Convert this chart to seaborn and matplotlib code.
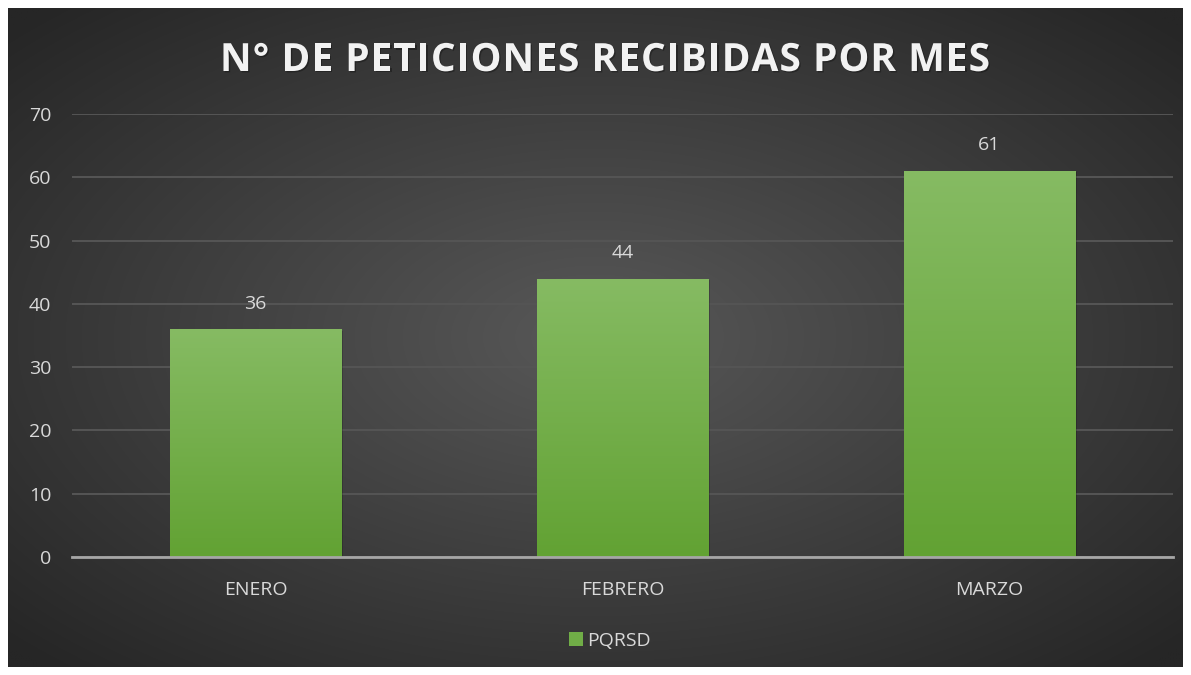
import numpy as np
import pandas as pd
import matplotlib
matplotlib.use("Agg")
import matplotlib.pyplot as plt
import matplotlib.patheffects as pe
from matplotlib.patches import Rectangle
import seaborn as sns

# ---- data ----
months = ["ENERO", "FEBRERO", "MARZO"]
pqrsd = [36, 44, 61]
series_name = "PQRSD"
title = "N° DE PETICIONES RECIBIDAS POR MES"
y_ticks = [0, 10, 20, 30, 40, 50, 60, 70]

df = pd.DataFrame({"mes": months, "valor": pqrsd})

FONT = ["Open Sans", "DejaVu Sans"]
plt.rcParams["font.family"] = FONT
TXT = "#d9d9d9"
FS = 14

W, H = 1191, 675
fig = plt.figure(figsize=(W / 100, H / 100), dpi=100)
fig.patch.set_facecolor("white")

# ---- radial gradient background ----
bx0, by0, bx1, by1 = 8, 8, 1183, 667
bg = fig.add_axes([bx0 / W, 1 - by1 / H, (bx1 - bx0) / W, (by1 - by0) / H], zorder=0)
gx = np.linspace(-1, 1, 600)
gy = np.linspace(-1, 1, 340)
X, Y = np.meshgrid(gx, gy)
R = np.sqrt((X * 0.95) ** 2 + (Y * 0.95) ** 2)
R = np.clip(R / 1.3, 0, 1)
c_in = np.array([0x58, 0x58, 0x58]) / 255
c_out = np.array([0x26, 0x26, 0x26]) / 255
img = c_in[None, None, :] * (1 - R[..., None]) + c_out[None, None, :] * R[..., None]
bg.imshow(img, aspect="auto", extent=[0, 1, 0, 1], interpolation="bilinear")
bg.set_axis_off()

# ---- main axes ----
ax = fig.add_axes([72 / W, 1 - 557 / H, (1173 - 72) / W, (557 - 114) / H], zorder=1)
ax.patch.set_alpha(0)

sns.barplot(data=df, x="mes", y="valor", color="#70ad47", width=0.466,
            ax=ax, zorder=3, saturation=1, edgecolor="none")

ax.set_xlim(-0.5, 2.5)
ax.set_ylim(0, 70)
ax.set_yticks(y_ticks)
ax.set_xlabel("")
ax.set_ylabel("")
for s in ["top", "right", "left"]:
    ax.spines[s].set_visible(False)
ax.spines["bottom"].set_color("#a6a6a6")
ax.spines["bottom"].set_linewidth(2)
ax.spines["bottom"].set_zorder(5)
ax.grid(axis="y", color="#555555", linewidth=1.4, zorder=0)
ax.set_axisbelow(True)
ax.tick_params(axis="both", length=0, colors=TXT, labelsize=FS)
ax.tick_params(axis="y", pad=15)
ax.tick_params(axis="x", pad=17)

# gradient fill in each bar + soft shadow
top_c = np.array([0x86, 0xbb, 0x63]) / 255
bot_c = np.array([0x62, 0xa2, 0x33]) / 255
grad = np.linspace(0, 1, 256)[:, None]
gimg = top_c[None, None, :] * (1 - grad[..., None]) + bot_c[None, None, :] * grad[..., None]
for p in ax.patches:
    x0, y0 = p.get_x(), p.get_y()
    w, h = p.get_width(), p.get_height()
    p.set_path_effects([pe.SimplePatchShadow(offset=(1.5, -1), shadow_rgbFace="black", alpha=0.18),
                        pe.Normal()])
    im = ax.imshow(np.repeat(gimg, 2, axis=1), extent=[x0, x0 + w, y0, y0 + h],
                   aspect="auto", zorder=4, interpolation="bilinear")
    im.set_clip_path(p)

ax.bar_label(ax.containers[0], labels=[str(v) for v in pqrsd], padding=12,
             color=TXT, fontsize=FS, zorder=6)

# ---- legend ----
handle = Rectangle((0, 0), 1, 1, facecolor="#70ad47", edgecolor="none")
leg = fig.legend([handle], [series_name], loc="center", bbox_to_anchor=(0.512, 1 - 641 / H),
                 frameon=False, fontsize=FS, handlelength=0.7, handleheight=0.7,
                 handletextpad=0.2, labelcolor=TXT)

# ---- letter-spaced title ----
fig.canvas.draw()
renderer = fig.canvas.get_renderer()
tprops = dict(fontsize=28, fontweight="bold", color="#f2f2f2", family=FONT)

def advance(ch):
    t1 = fig.text(0, 0, "H" + ch + "H", **tprops)
    t2 = fig.text(0, 0, "HH", **tprops)
    w = t1.get_window_extent(renderer).width - t2.get_window_extent(renderer).width
    t1.remove(); t2.remove()
    return w

advs = [advance(c) for c in title]
last = fig.text(0, 0, title[-1], **tprops)
last_w = last.get_window_extent(renderer).width
last.remove()
natural = sum(advs[:-1]) + last_w
target_l, target_r = 220, 990
track = (target_r - target_l - natural) / (len(title) - 1)
xpix = target_l
base_y = 1 - 71 / H
for c, a in zip(title, advs):
    if c != " ":
        fig.text(xpix / W, base_y, c, ha="left", va="baseline", zorder=10,
                 path_effects=[pe.withSimplePatchShadow(offset=(1, -1),
                                                        shadow_rgbFace="black", alpha=0.3)],
                 **tprops)
    xpix += a + track

fig.savefig("out.png", dpi=100, facecolor=fig.get_facecolor())
